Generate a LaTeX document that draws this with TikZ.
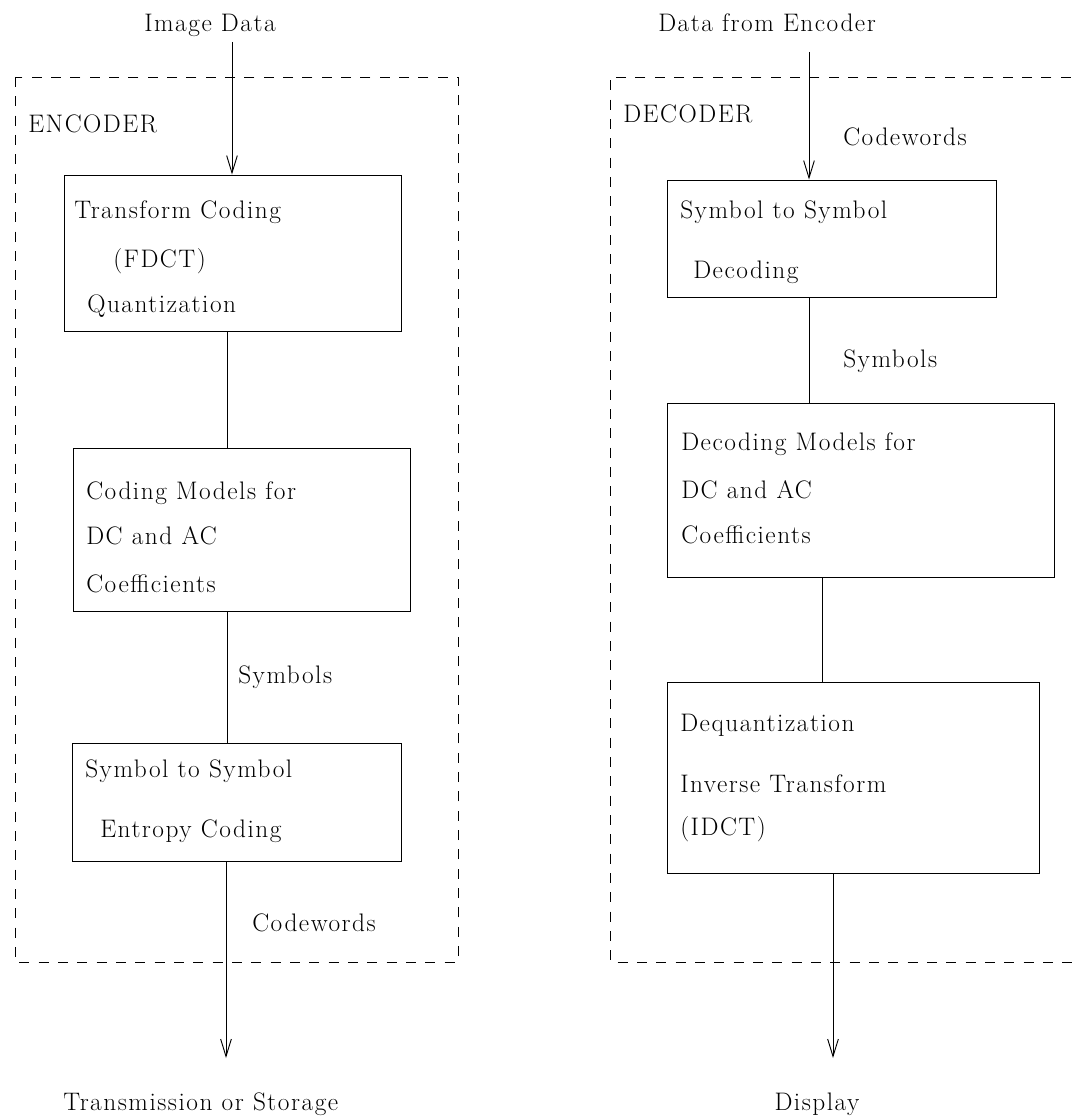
\documentclass[tikz,border=0pt]{standalone}
\usepackage{fontspec}
\setmainfont{Latin Modern Roman}[LetterSpace=6]
\usetikzlibrary{arrows.meta}
\begin{document}
\begin{tikzpicture}[x=0.75pt,y=-0.75pt,
  txt/.style={anchor=base west,inner sep=0pt,font=\fontsize{19}{23}\selectfont},
  ctxt/.style={anchor=base,inner sep=0pt,font=\fontsize{19}{23}\selectfont},
  blk/.style={draw,line width=0.7pt,inner sep=0pt,minimum width=#1},
  conn/.style={line width=0.7pt},
  arr/.style={line width=0.7pt,-{Straight Barb[length=13pt,width=8pt,line width=0.7pt]}},
  frame/.style={line width=0.7pt,dash pattern=on 7.5pt off 7pt}]
\clip (0,0) rectangle (1078,1120);
% frames
\draw[frame] (15,77) rectangle (458,962);
\draw[frame] (1090,77) -- (610,77) -- (610,962) -- (1090,962);
% encoder boxes
\node[blk=252.75pt,minimum height=117pt] (E1) at (232.5,253) {};
\node[blk=252.75pt,minimum height=122.25pt] (E2) at (241.5,529.5) {};
\node[blk=246.75pt,minimum height=88.5pt] (E3) at (236.5,802) {};
% decoder boxes
\node[blk=246.75pt,minimum height=87.75pt] (D1) at (831.5,238.5) {};
\node[blk=290.25pt,minimum height=130.5pt] (D2) at (860.5,490) {};
\node[blk=279pt,minimum height=143.25pt] (D3) at (853,777.5) {};
% texts
\node[ctxt] (tin) at (210,32) {Image Data};
\node[txt] (tenc) at (28,133) {ENCODER};
\node[txt] (t11) at (74,218) {Transform Coding};
\node[txt] (t12) at (113,267) {(FDCT)};
\node[txt] (t13) at (87,312) {Quantization};
\node[txt] (t21) at (86,499) {Coding Models for};
\node[txt] (t22) at (86,544) {DC and AC};
\node[txt] (t23) at (86,592) {Coefficients};
\node[txt] (tsym) at (238,683) {Symbols};
\node[txt] (t31) at (85,777) {Symbol to Symbol};
\node[txt] (t32) at (100,837) {Entropy Coding};
\node[txt] (tcw) at (252,931) {Codewords};
\node[txt] (tout) at (63,1110) {Transmission or Storage};
\node[ctxt] (dinp) at (767,32) {Data from Encoder};
\node[txt] (tdec) at (623,123) {DECODER};
\node[txt] (dcw) at (843,146) {Codewords};
\node[txt] (d11) at (680,218) {Symbol to Symbol};
\node[txt] (d12) at (693,278) {Decoding};
\node[txt] (dsym) at (843,367) {Symbols};
\node[txt] (d21) at (681,450) {Decoding Models for};
\node[txt] (d22) at (681,498) {DC and AC};
\node[txt] (d23) at (681,543) {Coefficients};
\node[txt] (d31) at (680,731) {Dequantization};
\node[txt] (d32) at (680,792) {Inverse Transform};
\node[txt] (d33) at (680,835) {(IDCT)};
\node[ctxt] (dout) at (817,1110) {Display};
% connector coordinates
\coordinate (ein) at (232,42);
\coordinate (cE) at (227,0);
\coordinate (eout) at (226,1058);
\coordinate (din) at (809,52);
\coordinate (cD2) at (822,0);
\coordinate (dout2) at (833,1058);
% encoder connectors
\draw[arr] (ein) -- (ein |- E1.north);
\draw[conn] (cE |- E1.south) -- (cE |- E2.north);
\draw[conn] (cE |- E2.south) -- (cE |- E3.north);
\draw[arr] (eout |- E3.south) -- (eout);
% decoder connectors
\draw[arr] (din) -- (din |- D1.north);
\draw[conn] (din |- D1.south) -- (din |- D2.north);
\draw[conn] (cD2 |- D2.south) -- (cD2 |- D3.north);
\draw[arr] (dout2 |- D3.south) -- (dout2);
\end{tikzpicture}
\end{document}
